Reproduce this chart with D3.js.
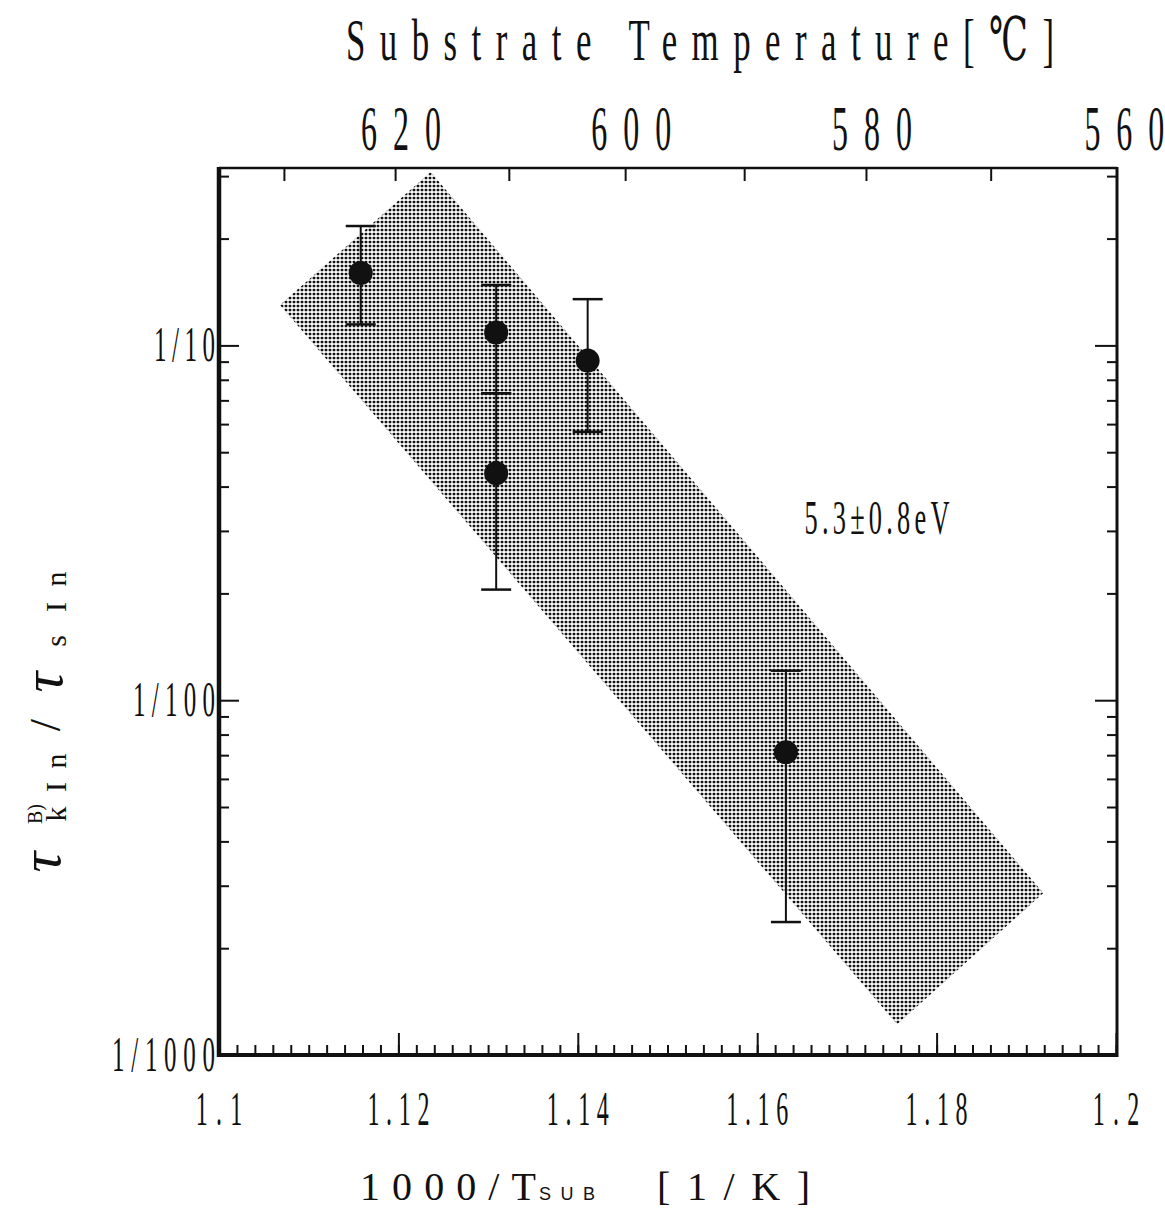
<!DOCTYPE html>
<html>
<head>
<meta charset="utf-8">
<script src="https://cdn.jsdelivr.net/npm/d3@7"></script>
<style>
  body { margin: 0; background: #fff; }
  text { fill: #111; }
</style>
</head>
<body>
<svg id="chart" width="1165" height="1213"></svg>
<script>
// Measured ratio tau_kIn(B) / tau_sIn against inverse substrate temperature
const invT   = [1.1158, 1.1309, 1.1309, 1.1411, 1.1632];
const ratio  = [0.160, 0.1087, 0.0436, 0.0906, 0.00713];
const errHi  = [0.217, 0.148, 0.0733, 0.135, 0.01211];
const errLo  = [0.1146, 0.0733, 0.0205, 0.0571, 0.00237];

// Corners of the shaded activation-energy band (5.3 ± 0.8 eV)
const bandX = [1.1068, 1.1236, 1.1919, 1.1756];
const bandY = [0.130, 0.308, 0.00286, 0.00122];

const xTickValues = [1.1, 1.12, 1.14, 1.16, 1.18, 1.2];
const xTickLabels = ["1.1", "1.12", "1.14", "1.16", "1.18", "1.2"];
const yTickValues = [0.001, 0.01, 0.1];
const yTickLabels = ["1/1000", "1/100", "1/10"];
const celsiusTicks  = [620, 600, 580, 560];
const celsiusLabels = ["620", "600", "580", "560"];
const celsiusMinor  = [570, 580, 590, 600, 610, 620, 630];
const fitLabel = "5.3±0.8eV";

const svg = d3.select("#chart");
const plotL = 219, plotR = 1117, plotT = 168, plotB = 1055;

const x = d3.scaleLinear().domain([1.1, 1.2]).range([plotL, 1116]);
const y = d3.scaleLog().domain([0.001, Math.pow(10, -0.5)]).range([plotB, plotT]);
const toInv = c => 1000 / (c + 273.15);

const serif = "'Liberation Serif', 'DejaVu Serif', serif";

// halftone dot fill for the band
const defs = svg.append("defs");
const pat = defs.append("pattern")
  .attr("id", "dots").attr("width", 4).attr("height", 4)
  .attr("patternUnits", "userSpaceOnUse");
pat.append("rect").attr("x", 0.65).attr("y", 0.65).attr("width", 2.7).attr("height", 2.7)
  .attr("rx", 0.9).attr("fill", "#111");

const band = bandX.map((v, i) => [x(v), y(bandY[i])]);
svg.append("path")
  .attr("d", d3.line()(band) + "Z")
  .attr("fill", "url(#dots)");

// minor/major ticks, all pointing into the frame
function tickGroup(axis, tx, ty) {
  const g = svg.append("g").attr("transform", `translate(${tx},${ty})`).call(axis);
  g.select(".domain").remove();
  g.selectAll("text").remove();
  g.selectAll("line").attr("stroke", "#111").attr("stroke-width", 2);
  return g;
}
const xMinor = d3.range(0, 51).map(i => +(1.1 + i * 0.002).toFixed(3));
tickGroup(d3.axisBottom(x).tickValues(xMinor).tickSize(-10), 0, plotB);
tickGroup(d3.axisBottom(x).tickValues(xTickValues).tickSize(-22), 0, plotB);
tickGroup(d3.axisTop(x).tickValues(celsiusMinor.map(toInv)).tickSize(-13), 0, plotT);

const yMinor = [];
[0.001, 0.01, 0.1].forEach(d => { for (let k = 2; k <= 9; k++) if (d * k <= 0.32) yMinor.push(d * k); });
tickGroup(d3.axisLeft(y).tickValues(yMinor).tickSize(-10), plotL, 0);
tickGroup(d3.axisLeft(y).tickValues(yTickValues).tickSize(-20), plotL, 0);
tickGroup(d3.axisRight(y).tickValues(yMinor).tickSize(-10), plotR, 0);
tickGroup(d3.axisRight(y).tickValues(yTickValues).tickSize(-22), plotR, 0);

// frame
svg.append("line").attr("x1", plotL).attr("x2", plotL).attr("y1", plotT - 1).attr("y2", plotB + 2)
  .attr("stroke", "#111").attr("stroke-width", 4.5);
svg.append("line").attr("x1", plotL - 2).attr("x2", plotR + 1).attr("y1", plotB).attr("y2", plotB)
  .attr("stroke", "#111").attr("stroke-width", 4);
svg.append("line").attr("x1", plotR).attr("x2", plotR).attr("y1", plotT - 1).attr("y2", plotB + 2)
  .attr("stroke", "#111").attr("stroke-width", 3);
svg.append("line").attr("x1", plotL).attr("x2", plotR).attr("y1", plotT).attr("y2", plotT)
  .attr("stroke", "#111").attr("stroke-width", 2.5);

// error bars
const capW = 15;
invT.forEach((v, i) => {
  const cx = x(v);
  svg.append("line").attr("x1", cx).attr("x2", cx)
    .attr("y1", y(errLo[i])).attr("y2", y(errHi[i]))
    .attr("stroke", "#111").attr("stroke-width", 2);
  [errLo[i], errHi[i]].forEach(e => {
    svg.append("line").attr("x1", cx - capW).attr("x2", cx + capW)
      .attr("y1", y(e)).attr("y2", y(e))
      .attr("stroke", "#111").attr("stroke-width", 2.5);
  });
});

// data points
svg.selectAll("circle.pt").data(invT).join("circle")
  .attr("class", "pt")
  .attr("cx", d => x(d))
  .attr("cy", (d, i) => y(ratio[i]))
  .attr("r", 12)
  .attr("fill", "#111");

// narrow, letter-spaced text
function narrow(str, cx, base, size, sx, width, anchor) {
  return svg.append("text")
    .attr("transform", `translate(${cx},${base}) scale(${sx},1)`)
    .attr("text-anchor", anchor || "middle")
    .attr("font-family", serif)
    .attr("font-size", size)
    .attr("textLength", width / sx)
    .attr("lengthAdjust", "spacing")
    .text(str);
}

// bottom tick labels
xTickValues.forEach((v, i) => {
  narrow(xTickLabels[i], x(v), 1125, 48, 0.5, xTickLabels[i].length * 15.5, "middle");
});
// left tick labels
yTickValues.forEach((v, i) => {
  narrow(yTickLabels[i], 215, y(v) + 16, 50, 0.5, yTickLabels[i].length * 21 - 23, "end");
});
// top (Celsius) tick labels
celsiusTicks.forEach((c, i) => {
  narrow(celsiusLabels[i], x(toInv(c)) + 6, 150, 64, 0.5, 80, "middle");
});

// title
narrow("Substrate Temperature[℃]", 700, 60, 60, 0.58, 708, "middle");

// band annotation
narrow(fitLabel, 877, 534, 48, 0.55, 145, "middle");

// x-axis title
const xt = svg.append("text").attr("font-family", serif).attr("y", 1200);
xt.append("tspan").attr("x", 360).attr("font-size", 40)
  .attr("textLength", 176).attr("lengthAdjust", "spacing").text("1000/T");
xt.append("tspan").attr("x", 539).attr("font-size", 18)
  .attr("font-family", "'Liberation Sans', sans-serif")
  .attr("textLength", 56).attr("lengthAdjust", "spacing").text("SUB");
xt.append("tspan").attr("x", 657).attr("font-size", 40)
  .attr("textLength", 153).attr("lengthAdjust", "spacing").text("[1/K]");

// y-axis title, rotated
const yl = svg.append("g").attr("transform", "translate(66,882) rotate(-90)");
const glyphs = [
  { t: "τ",  u: 20,  v: -6, s: 58, it: true },
  { t: "B)", u: 68,  v: -24, s: 20 },
  { t: "k",  u: 68,  v: 0,  s: 30 },
  { t: "I",  u: 95,  v: 0,  s: 30 },
  { t: "n",  u: 121, v: 0,  s: 30 },
  { t: "/",  u: 157, v: -6, s: 44 },
  { t: "τ",  u: 200, v: -4, s: 58, it: true },
  { t: "s",  u: 241, v: 0,  s: 30 },
  { t: "I",  u: 275, v: 0,  s: 30 },
  { t: "n",  u: 303, v: 0,  s: 30 }
];
yl.selectAll("text").data(glyphs).join("text")
  .attr("x", d => d.u).attr("y", d => d.v)
  .attr("text-anchor", "middle")
  .attr("font-family", serif)
  .attr("font-style", d => d.it ? "italic" : "normal")
  .attr("font-size", d => d.s)
  .text(d => d.t);
</script>
</body>
</html>
